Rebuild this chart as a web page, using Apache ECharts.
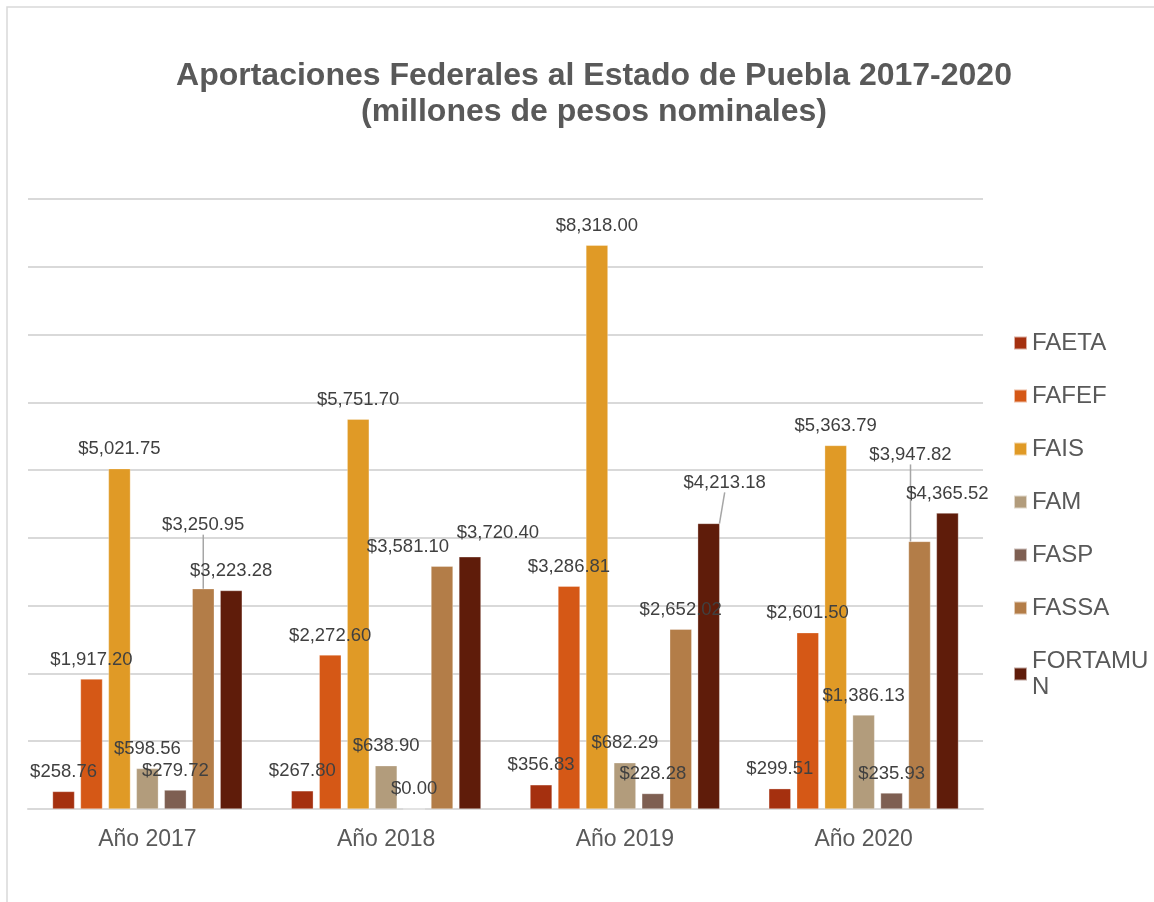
<!DOCTYPE html>
<html lang="es">
<head>
<meta charset="UTF-8">
<title>Aportaciones Federales al Estado de Puebla 2017-2020</title>
<style>
  html, body { margin: 0; padding: 0; background: #fff; }
  #main { width: 1154px; height: 902px; }
</style>
</head>
<body>
<div id="main"></div>
<script src="https://cdn.jsdelivr.net/npm/echarts@6/dist/echarts.min.js"></script>
<script>
// años (categorías)
const years = ['Año 2017', 'Año 2018', 'Año 2019', 'Año 2020'];

// millones de pesos por fondo
const FAETA    = [258.76, 267.80, 356.83, 299.51];
const FAFEF    = [1917.20, 2272.60, 3286.81, 2601.50];
const FAIS     = [5021.75, 5751.70, 8318.00, 5363.79];
const FAM      = [598.56, 638.90, 682.29, 1386.13];
const FASP     = [279.72, 0.00, 228.28, 235.93];
const FASSA    = [3250.95, 3581.10, 2652.02, 3947.82];
const FORTAMUN = [3223.28, 3720.40, 4213.18, 4365.52];

const funds = [
  { name: 'FAETA', values: FAETA, color: '#A5300F' },
  { name: 'FAFEF', values: FAFEF, color: '#D55816' },
  { name: 'FAIS', values: FAIS, color: '#E09A26' },
  { name: 'FAM', values: FAM, color: '#B29C7C' },
  { name: 'FASP', values: FASP, color: '#7E5F52' },
  { name: 'FASSA', values: FASSA, color: '#B37D48' },
  { name: 'FORTAMUN', values: FORTAMUN, color: '#5F1C0A' }
];

// etiquetas desplazadas como en el original: [serie-año] -> [dx, dy]
const moved = {
  '5-0': [0, -44],
  '5-1': [-34, 0],
  '6-1': [28, -4],
  '6-2': [16, -21],
  '5-3': [-9, -67]
};
// las que llevan línea guía
const guided = ['5-0', '6-2', '5-3'];

const money = v => '$' + v.toLocaleString('en-US', { minimumFractionDigits: 2, maximumFractionDigits: 2 });

var chart = echarts.init(document.getElementById('main'));

var option = {
  animation: false,
  textStyle: { fontFamily: '"Liberation Sans", Arial, sans-serif' },
  title: {
    text: 'Aportaciones Federales al Estado de Puebla 2017-2020\n(millones de pesos nominales)',
    left: 589,
    top: 53,
    textAlign: 'center',
    textStyle: {
      fontSize: 32,
      fontWeight: 'bold',
      color: '#595959',
      lineHeight: 36
    }
  },
  legend: {
    orient: 'vertical',
    left: 1008,
    top: 325,
    itemWidth: 13,
    itemHeight: 13,
    itemGap: 27,
    icon: 'rect',
    data: funds.map(f => f.name),
    textStyle: {
      fontSize: 24,
      color: '#595959',
      lineHeight: 26,
      width: 122,
      overflow: 'breakAll'
    }
  },
  grid: {
    left: 28,
    right: 171,
    top: 199,
    bottom: 93,
    containLabel: false
  },
  xAxis: {
    type: 'category',
    data: years,
    axisTick: { show: false },
    axisLine: { lineStyle: { color: '#d9d9d9', width: 2 } },
    axisLabel: { fontSize: 23, color: '#595959', margin: 19 }
  },
  yAxis: {
    type: 'value',
    min: 0,
    max: 9000,
    interval: 1000,
    axisLabel: { show: false },
    axisLine: { show: false },
    axisTick: { show: false },
    splitLine: { lineStyle: { color: '#d9d9d9', width: 2 } }
  },
  series: funds.map((f, si) => ({
    name: f.name,
    type: 'bar',
    barWidth: 22,
    barGap: '27%',
    itemStyle: { color: f.color, borderColor: 'rgba(255,255,255,0.6)', borderWidth: 0.5 },
    label: {
      show: true,
      position: 'top',
      distance: 10,
      fontSize: 18.5,
      color: '#404040',
      formatter: p => money(p.value)
    },
    labelLine: { show: false, lineStyle: { color: '#a6a6a6', width: 1.5 } },
    labelLayout: p => {
      const m = moved[p.seriesIndex + '-' + p.dataIndex];
      return m ? { dx: m[0], dy: m[1] } : {};
    },
    data: f.values.map((v, di) =>
      guided.includes(si + '-' + di) ? { value: v, labelLine: { show: true } } : v
    )
  })),
  graphic: [{
    type: 'rect',
    shape: { x: 7, y: 7, width: 1200, height: 1000 },
    style: { fill: 'none', stroke: '#d9d9d9', lineWidth: 1.5 },
    silent: true,
    z: -1
  }]
};

chart.setOption(option);
</script>
</body>
</html>
